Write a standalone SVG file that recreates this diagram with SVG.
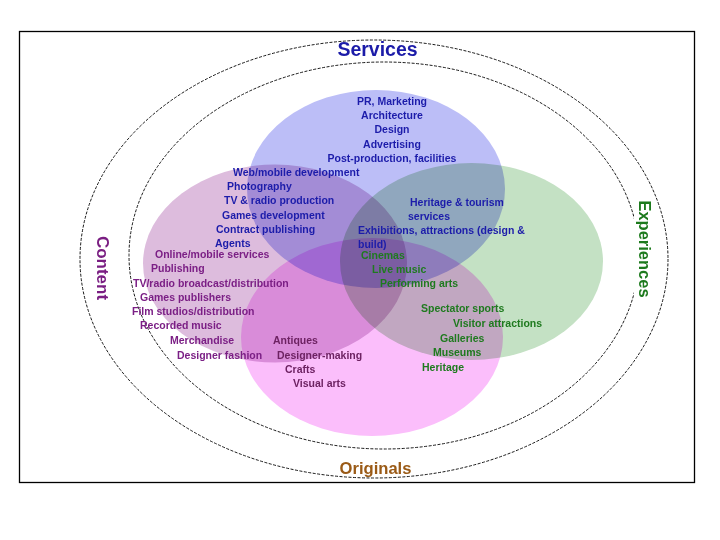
<svg xmlns="http://www.w3.org/2000/svg" width="720" height="540" viewBox="0 0 720 540">
  <style>
    .frame { fill: #ffffff; stroke: #000000; stroke-width: 1.3; }
    .ring { fill: none; stroke: #000000; stroke-width: 0.9; stroke-dasharray: 3 1.5; }
    .set { mix-blend-mode: multiply; stroke: none; }
    .t { font-family: "Liberation Sans", Arial, sans-serif; font-weight: bold; font-size: 10.5px; }
    .b { fill: #1C1CAA; }
    .p { fill: #7B1F85; }
    .m { fill: #6D2262; }
    .g { fill: #1F7A1F; }
    .title { font-family: "Liberation Sans", Arial, sans-serif; font-weight: bold; }
  </style>
  <rect x="0" y="0" width="720" height="540" fill="#ffffff"/>
  <rect class="frame" x="19.5" y="31.5" width="675" height="451"/>

  <g id="rings">
    <ellipse class="ring" cx="374" cy="259" rx="294" ry="219"/>
    <ellipse class="ring" cx="384" cy="255.5" rx="255" ry="193.5"/>
  </g>

  <g id="sets" style="isolation:isolate">
    <ellipse id="set-content" class="set" cx="275" cy="263.5" rx="132" ry="99" fill="#DDBCDD"/>
    <ellipse id="set-experiences" class="set" cx="471.5" cy="261.5" rx="131.5" ry="98.5" fill="#C4E1C4"/>
    <ellipse id="set-services" class="set" cx="376" cy="189" rx="129" ry="99" fill="#BCBEF7"/>
    <ellipse id="set-originals" class="set" cx="372" cy="337" rx="131" ry="99" fill="#FBBEFB"/>
  </g>

  <g id="ring-labels">
    <text class="title" x="377.5" y="56" font-size="19.5" fill="#1B1BA8" text-anchor="middle">Services</text>
    <text class="title" transform="translate(97,268) rotate(90)" font-size="17" fill="#7A1E82" text-anchor="middle">Content</text>
    <rect x="634" y="198" width="19" height="102" fill="#ffffff"/>
    <text class="title" transform="translate(639,249) rotate(90)" font-size="16.5" fill="#1D7A1D" text-anchor="middle">Experiences</text>
    <text class="title" x="375.5" y="474" font-size="16.6" fill="#9A5A16" text-anchor="middle">Originals</text>
  </g>

  <g id="services-items" class="t b">
    <text x="392" y="105" text-anchor="middle">PR, Marketing</text>
    <text x="392" y="119" text-anchor="middle">Architecture</text>
    <text x="392" y="133" text-anchor="middle">Design</text>
    <text x="392" y="148" text-anchor="middle">Advertising</text>
    <text x="392" y="162" text-anchor="middle">Post-production, facilities</text>
    <text x="233" y="176">Web/mobile development</text>
    <text x="227" y="190">Photography</text>
    <text x="224" y="204">TV &amp; radio production</text>
    <text x="222" y="219">Games development</text>
    <text x="216" y="233">Contract publishing</text>
    <text x="215" y="246.5">Agents</text>
    <text x="410" y="206">Heritage &amp; tourism</text>
    <text x="408" y="220">services</text>
    <text x="358" y="234">Exhibitions, attractions (design &amp;</text>
    <text x="358" y="248">build)</text>
  </g>

  <g id="content-items" class="t p">
    <text x="155" y="257.5">Online/mobile services</text>
    <text x="151" y="272">Publishing</text>
    <text x="133" y="287">TV/radio broadcast/distribution</text>
    <text x="140" y="301">Games publishers</text>
    <text x="132" y="315">Film studios/distribution</text>
    <text x="140" y="329">Recorded music</text>
    <text x="170" y="344">Merchandise</text>
    <text x="177" y="359">Designer fashion</text>
  </g>

  <g id="originals-items" class="t m">
    <text x="273" y="344">Antiques</text>
    <text x="277" y="359">Designer-making</text>
    <text x="285" y="373">Crafts</text>
    <text x="293" y="387">Visual arts</text>
  </g>

  <g id="experiences-items" class="t g">
    <text x="361" y="259">Cinemas</text>
    <text x="372" y="273">Live music</text>
    <text x="380" y="287">Performing arts</text>
    <text x="421" y="312">Spectator sports</text>
    <text x="453" y="327">Visitor attractions</text>
    <text x="440" y="342">Galleries</text>
    <text x="433" y="356">Museums</text>
    <text x="422" y="371">Heritage</text>
  </g>
</svg>
